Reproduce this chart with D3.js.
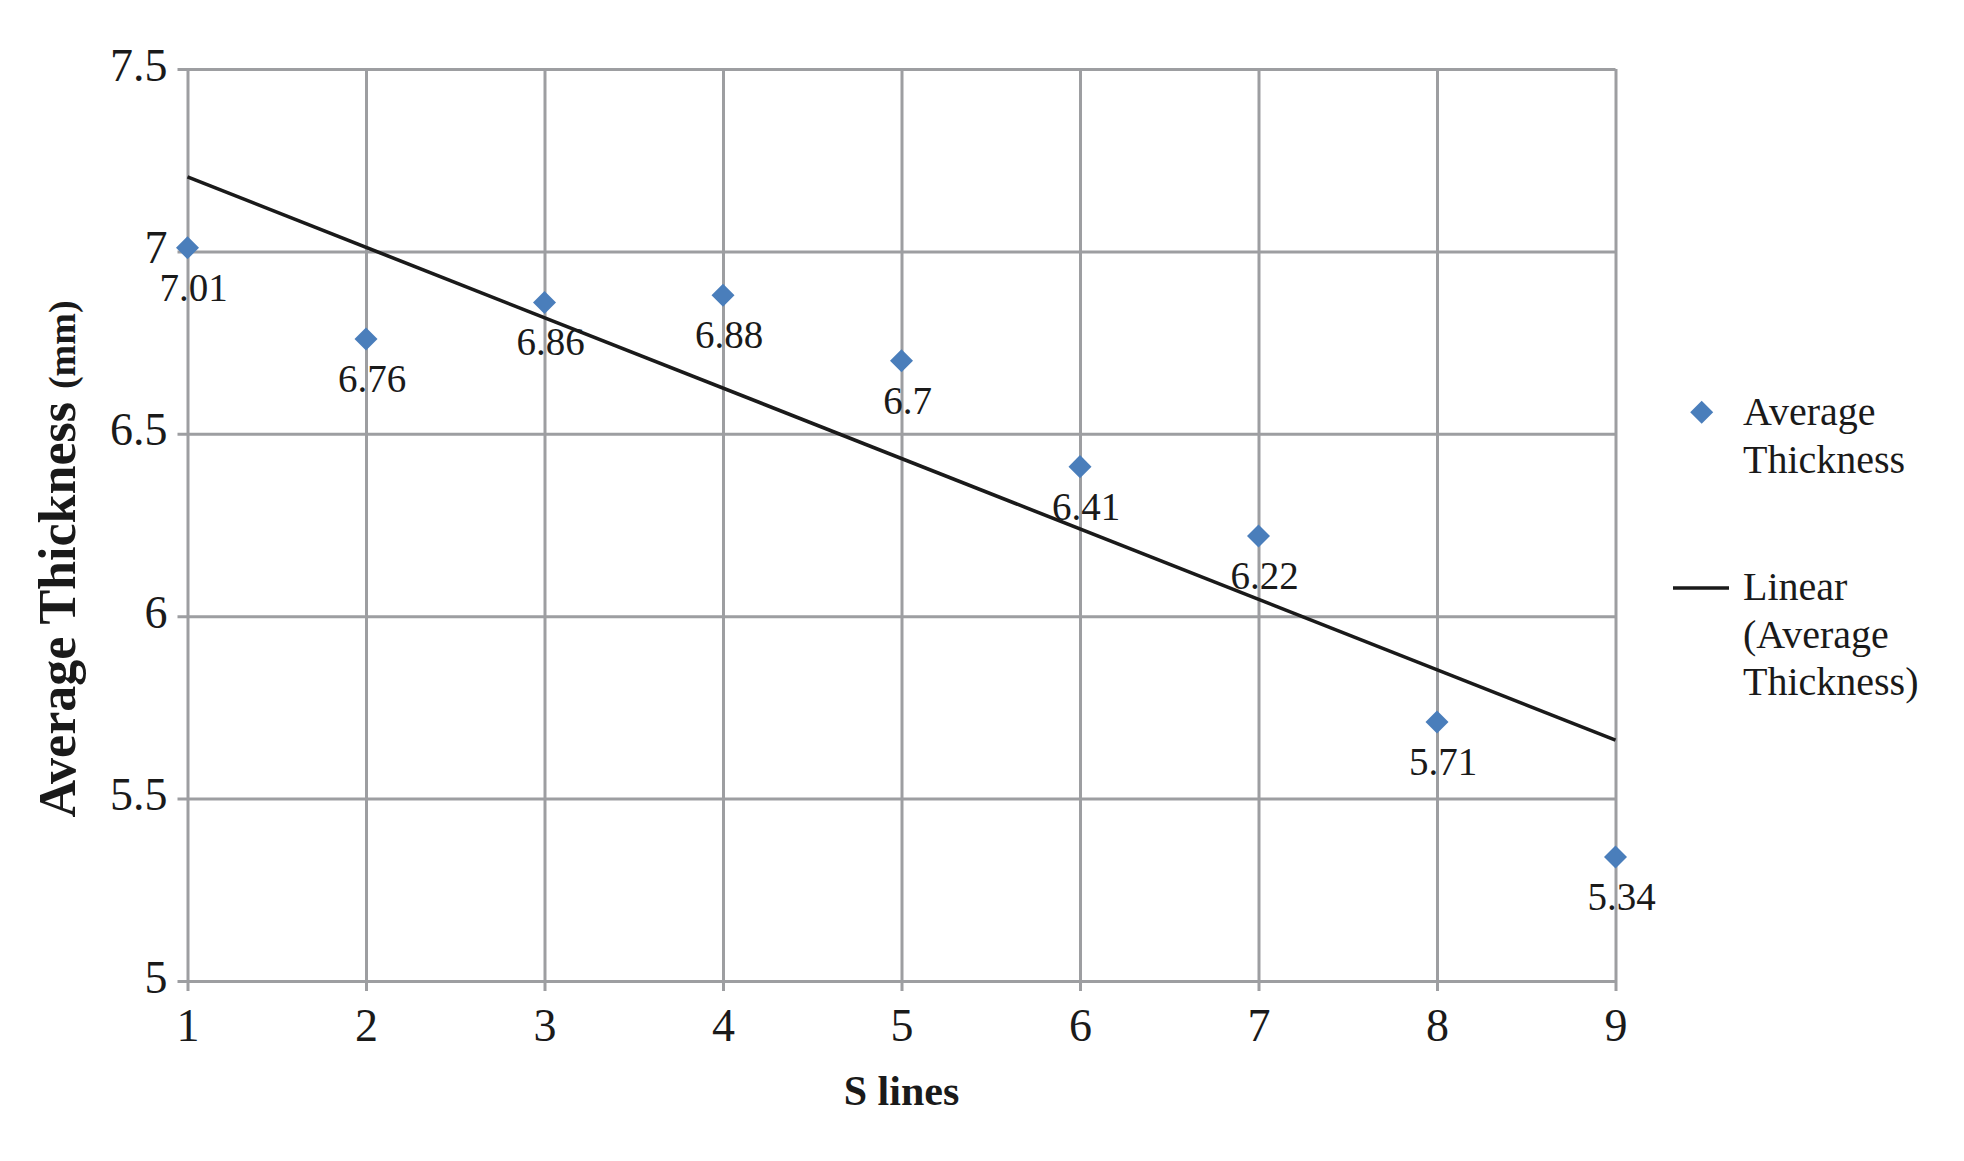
<!DOCTYPE html>
<html>
<head>
<meta charset="utf-8">
<script src="https://cdn.jsdelivr.net/npm/d3@7"></script>
<style>
  html, body { margin: 0; padding: 0; background: #fff; }
  svg { display: block; font-family: "Liberation Serif", "Times New Roman", serif; }
</style>
</head>
<body>
<svg id="chart" width="1964" height="1161"></svg>
<script>
const sLines = [1, 2, 3, 4, 5, 6, 7, 8, 9];
const avgThickness = [7.01, 6.76, 6.86, 6.88, 6.7, 6.41, 6.22, 5.71, 5.34];
const yTicks = [5, 5.5, 6, 6.5, 7, 7.5];
const xTicks = [1, 2, 3, 4, 5, 6, 7, 8, 9];
const legendLabels = [["Average", "Thickness"], ["Linear", "(Average", "Thickness)"]];

const svg = d3.select("#chart");
const pL = 187.5, pR = 1615.5, pT = 69, pB = 981;
const x = d3.scaleLinear().domain([1, 9]).range([pL, pR]);
const y = d3.scaleLinear().domain([5, 7.5]).range([pB, pT]);
const grid = "#9d9ea1";

// horizontal gridlines via axis
const yAxis = d3.axisLeft(y).tickValues(yTicks).tickSize(0).tickFormat(d => d);
const gy = svg.append("g").attr("transform", `translate(${pL - 10},0)`).call(yAxis);
gy.select(".domain").remove();
gy.selectAll(".tick line").attr("stroke", grid).attr("stroke-width", 3).attr("x1", 0).attr("x2", pR - pL + 10);
gy.selectAll(".tick text").attr("x", -10).attr("dy", null).attr("y", 11)
  .attr("font-size", 46).attr("fill", "#1a1a1a").attr("font-family", "Liberation Serif");

// vertical gridlines via axis
const xAxis = d3.axisBottom(x).tickValues(xTicks).tickSize(0).tickFormat(d => d);
const gx = svg.append("g").attr("transform", `translate(0,${pB + 10})`).call(xAxis);
gx.select(".domain").remove();
gx.selectAll(".tick line").attr("stroke", grid).attr("stroke-width", 3)
  .attr("y1", 0).attr("y2", -(pB + 10 - pT));
gx.selectAll(".tick text").attr("dy", null).attr("y", 50)
  .attr("font-size", 46).attr("fill", "#1a1a1a").attr("font-family", "Liberation Serif");

// linear trendline (least squares from the data)
const mx = d3.mean(sLines), my = d3.mean(avgThickness);
const slope = d3.sum(sLines.map((v, i) => (v - mx) * (avgThickness[i] - my))) /
              d3.sum(sLines.map(v => (v - mx) * (v - mx)));
const intercept = my - slope * mx;
const xs = d3.extent(sLines);
svg.append("path")
  .datum(xs.map(v => [v, intercept + slope * v]))
  .attr("d", d3.line().x(d => x(d[0])).y(d => y(d[1])))
  .attr("stroke", "#1a1a1a").attr("stroke-width", 3.6).attr("fill", "none");

// markers
const diamond = d3.symbol().type(d3.symbolSquare).size(265);
const blue = "#4a7ebb";
svg.append("g").selectAll("path").data(sLines).join("path")
  .attr("d", diamond)
  .attr("transform", (d, i) => `translate(${x(d)},${y(avgThickness[i])}) rotate(45)`)
  .attr("fill", blue);

// data labels
svg.append("g").selectAll("text").data(sLines).join("text")
  .attr("x", d => x(d) + 6)
  .attr("y", (d, i) => y(avgThickness[i]) + 53)
  .attr("text-anchor", "middle")
  .attr("font-size", 39).attr("fill", "#1a1a1a")
  .text((d, i) => avgThickness[i]);

// axis titles
svg.append("text").attr("x", 901.5).attr("y", 1105).attr("text-anchor", "middle")
  .attr("font-size", 42).attr("font-weight", "bold").attr("fill", "#1a1a1a").text("S lines");

const yt = svg.append("text").attr("transform", "translate(75,559) rotate(-90)")
  .attr("text-anchor", "middle").attr("font-weight", "bold").attr("fill", "#1a1a1a");
yt.append("tspan").attr("font-size", 52).text("Average Thickness ");
yt.append("tspan").attr("font-size", 38).text("(mm)");

// legend
const lg = svg.append("g");
lg.append("path").attr("d", diamond).attr("transform", "translate(1701.7,412.3) rotate(45)").attr("fill", blue);
lg.append("line").attr("x1", 1673).attr("x2", 1729).attr("y1", 588).attr("y2", 588)
  .attr("stroke", "#1a1a1a").attr("stroke-width", 3.6);
const lgStarts = [425, 600];
legendLabels.forEach((lines, k) => {
  lines.forEach((t, j) => {
    lg.append("text").attr("x", 1743).attr("y", lgStarts[k] + j * 47.5)
      .attr("font-size", 40).attr("fill", "#1a1a1a").text(t);
  });
});
</script>
</body>
</html>
